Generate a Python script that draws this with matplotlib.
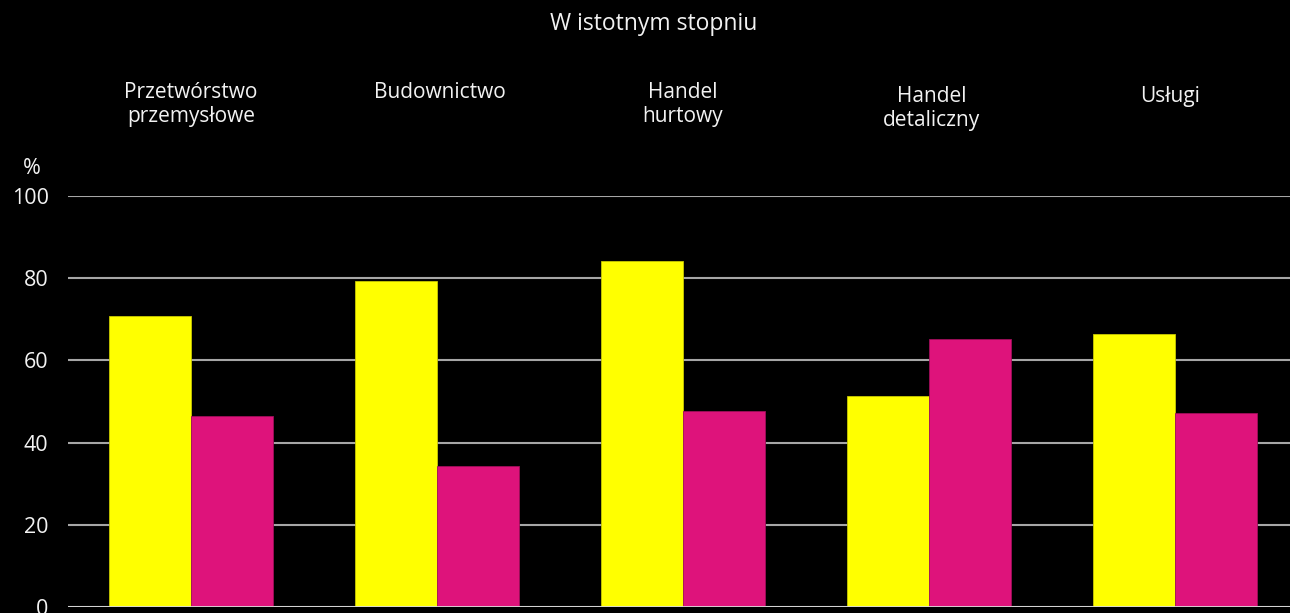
import matplotlib.pyplot as plt
import numpy as np
from matplotlib import font_manager

categories = ["Przetwórstwo\nprzemysłowe", "Budownictwo", "Handel\nhurtowy",
              "Handel\ndetaliczny", "Usługi"]
series_a = [70.8, 79.3, 84.2, 51.3, 66.4]
series_b = [46.5, 34.3, 47.7, 65.2, 47.2]
y_ticks = [0, 20, 40, 60, 80, 100]

names = {f.name for f in font_manager.fontManager.ttflist}
preferred = ["Open Sans", "Noto Sans"]
family = [f for f in preferred if f in names][:1] + ["DejaVu Sans"]
plt.rcParams["font.family"] = family

W, H = 1290, 613
fig = plt.figure(figsize=(W / 100, H / 100), dpi=100, facecolor="black")
ax = fig.add_axes([68 / W, 6 / H, (W - 68) / W, (607 - 196) / H])
ax.set_facecolor("black")

x = np.arange(len(categories))
w = 1 / 3
ax.bar(x - w / 2, series_a, width=w, color="#ffff00", edgecolor="#c8c800", linewidth=0.6, zorder=3)
ax.bar(x + w / 2, series_b, width=w, color="#de137b", edgecolor="#a00e5a", linewidth=0.6, zorder=3)

ax.set_xlim(-0.5, 4.5 - 8 / 246)
ax.set_ylim(0, 100)
ax.set_yticks(y_ticks)
ax.set_yticklabels([str(t) for t in y_ticks], color="#f2f2f2", fontsize=15.5)
ax.tick_params(axis="y", length=0, pad=14)
ax.set_xticks([])
ax.grid(axis="y", color="#a6a6a6", linewidth=1.5, zorder=0)
for s in ax.spines.values():
    s.set_visible(False)
ax.axhline(0, color="#d9d9d9", linewidth=2, zorder=4)

fig.text(32 / W, 1 - 169 / H, "%", color="#f2f2f2", fontsize=15.5, ha="center", va="center")
fig.text(654 / W, 1 - 24 / H, "W istotnym stopniu", color="#f2f2f2", fontsize=16.5, ha="center", va="center")

centers = [191, 440, 683, 932, 1170]
tops = [82, 82, 82, 86, 86]
for c, t, lab in zip(centers, tops, categories):
    fig.text(c / W, 1 - t / H, lab, color="#f2f2f2", fontsize=15, ha="center", va="top",
             linespacing=1.2)

fig.savefig("out.png", dpi=100, facecolor="black")
